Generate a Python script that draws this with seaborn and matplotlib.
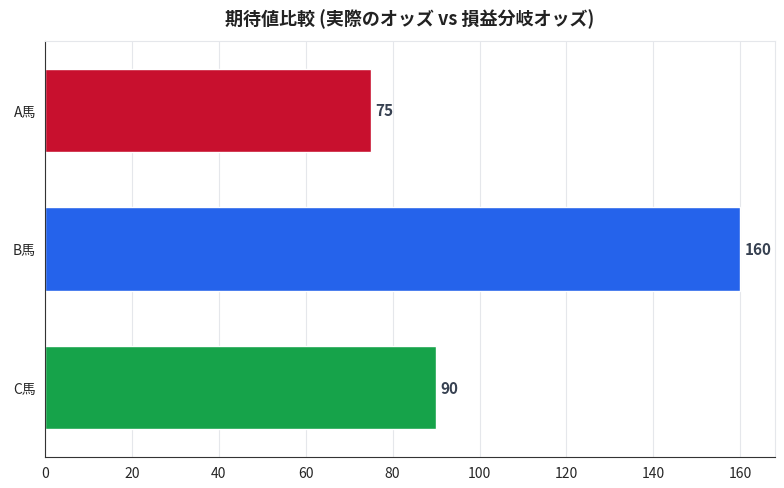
import pandas as pd
import matplotlib
matplotlib.use("Agg")
import matplotlib.pyplot as plt
import seaborn as sns

horses = ["A馬", "B馬", "C馬"]
values = [75, 160, 90]
colors = ["#c8102e", "#2563eb", "#16a34a"]

sns.set_style("white")
plt.rcParams['font.family'] = ['Noto Sans CJK JP', 'DejaVu Sans']

df = pd.DataFrame({"馬": horses, "期待値": values})

fig = plt.figure(figsize=(7.84, 4.89), dpi=100)
ax = fig.add_axes([45 / 784, 31 / 489, 730 / 784, 416 / 489])
sns.barplot(data=df, x="期待値", y="馬", hue="馬", palette=colors, orient="h",
            width=0.6, legend=False, ax=ax, saturation=1)

for i, v in enumerate(values):
    ax.text(v + 1, i, str(v), va="center", ha="left", fontsize=11,
            fontweight="bold", color="#374151")

ax.set_xlim(0, 168)
ax.set_xticks(range(0, 161, 20))
ax.grid(axis="x", color="#e5e7eb", linewidth=0.8)
ax.set_axisbelow(True)
ax.set_xlabel("")
ax.set_ylabel("")
ax.tick_params(axis="both", labelsize=10, length=3, color="#333333")
for s in ["top", "right"]:
    ax.spines[s].set_color("#e5e7eb")
for s in ["left", "bottom"]:
    ax.spines[s].set_color("#333333")
ax.set_title("期待値比較 (実際のオッズ vs 損益分岐オッズ)", fontsize=13,
             fontweight="bold", color="#222222", pad=12)

fig.savefig("out.png", dpi=100)
